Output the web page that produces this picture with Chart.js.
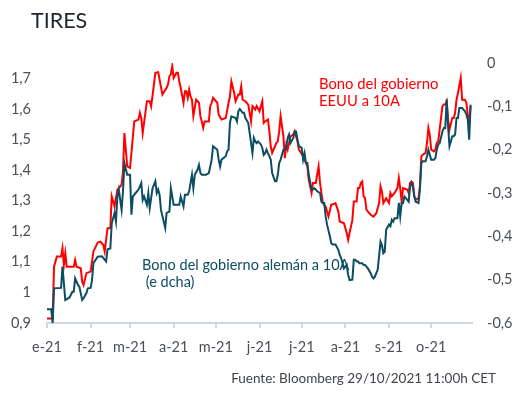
<!DOCTYPE html>
<html lang="es">
<head>
<meta charset="utf-8">
<title>Tires</title>
<script src="https://cdn.jsdelivr.net/npm/chart.js@4.4.1/dist/chart.umd.min.js"></script>
<style>
  body { margin: 0; background: #fff; }
  #grafico { position: relative; width: 516px; height: 398px; font-family: Lato, sans-serif; overflow: hidden; }
  #grafico canvas { position: absolute; left: 0; top: 0; }
  .texto { position: absolute; white-space: pre; }
  #titulo { left: 31px; top: 9px; font-size: 21.5px; line-height: 22px; color: #1f252b; }
  #nota-eeuu { left: 319px; top: 75px; font-size: 14.8px; line-height: 16.5px; color: #ff0000; }
  #nota-alemania { left: 142px; top: 256px; font-size: 14.5px; line-height: 17px; color: #0b4d63; }
  #fuente { right: 20px; top: 370px; font-size: 13.5px; line-height: 17px; color: #3f444a; }
</style>
</head>
<body>
<div id="grafico">
  <canvas id="chart-tires" width="516" height="398"></canvas>
  <div class="texto" id="titulo">TIRES</div>
  <div class="texto" id="nota-eeuu">Bono del gobierno
EEUU a 10A</div>
  <div class="texto" id="nota-alemania">Bono del gobierno alemán a 10A
 (e dcha)</div>
  <div class="texto" id="fuente">Fuente: Bloomberg 29/10/2021 11:00h CET</div>
</div>
<script>
// dias desde el 1 de enero de 2021
const marcasMes = [0, 31, 59, 90, 120, 151, 181, 212, 243, 273];
const etiquetasMes = ['e-21', 'f-21', 'm-21', 'a-21', 'm-21', 'j-21', 'j-21', 'a-21', 's-21', 'o-21'];

const ticksIzq = [0.9, 1.0, 1.1, 1.2, 1.3, 1.4, 1.5, 1.6, 1.7];
const etiquetasIzq = ['0,9', '1', '1,1', '1,2', '1,3', '1,4', '1,5', '1,6', '1,7'];
const ticksDer = [-0.6, -0.5, -0.4, -0.3, -0.2, -0.1, 0];
const etiquetasDer = ['-0,6', '-0,5', '-0,4', '-0,3', '-0,2', '-0,1', '0'];

// Bono EEUU 10A (eje izquierdo)
const diasEEUU = [
  0, 4, 5, 7, 10, 11, 12, 13, 14, 19,
  20, 21, 24, 25, 26, 28, 31, 33, 36, 38,
  40, 41, 43, 45, 46, 48, 50, 51, 53, 54,
  55, 57, 59, 60, 62, 65, 66, 67, 68, 71,
  73, 74, 76, 77, 79, 80, 82, 85, 86, 87,
  88, 89, 90, 92, 93, 94, 95, 97, 98, 99,
  100, 101, 102, 103, 104, 106, 108, 109, 110, 111,
  112, 115, 116, 117, 118, 121, 122, 124, 127, 129,
  130, 131, 133, 134, 136, 137, 138, 139, 141, 143,
  145, 146, 148, 149, 151, 152, 153, 154, 155, 157,
  158, 159, 160, 163, 164, 165, 166, 168, 169, 170,
  171, 173, 175, 176, 177, 178, 179, 182, 183, 185,
  186, 188, 189, 191, 193, 194, 196, 198, 200, 202,
  203, 205, 207, 208, 211, 213, 214, 215, 217, 218,
  220, 221, 222, 223, 224, 225, 226, 227, 230, 232,
  234, 236, 237, 238, 239, 241, 243, 244, 245, 247,
  249, 250, 251, 252, 253, 256, 257, 258, 259, 260,
  261, 262, 264, 265, 266, 267, 269, 270, 271, 272,
  273, 275, 276, 277, 278, 279, 281, 282, 283, 284,
  285, 286, 288, 289, 290, 291, 292, 294, 295, 296,
  297, 298, 299, 300, 301
];
const tiresEEUU = [
  0.915, 0.915, 1.084, 1.117, 1.117, 1.145, 1.09, 1.128, 1.084, 1.084,
  1.106, 1.084, 1.079, 1.035, 1.024, 1.063, 1.068, 1.134, 1.163, 1.166,
  1.155, 1.134, 1.21, 1.21, 1.314, 1.281, 1.336, 1.341, 1.352, 1.396,
  1.521, 1.412, 1.407, 1.456, 1.559, 1.565, 1.587, 1.57, 1.521, 1.625,
  1.625, 1.608, 1.68, 1.718, 1.72, 1.696, 1.647, 1.669, 1.68, 1.707,
  1.712, 1.74, 1.701, 1.718, 1.718, 1.69, 1.669, 1.62, 1.658, 1.658,
  1.636, 1.663, 1.641, 1.63, 1.576, 1.63, 1.62, 1.576, 1.559, 1.538,
  1.559, 1.559, 1.609, 1.62, 1.636, 1.62, 1.581, 1.565, 1.57, 1.62,
  1.641, 1.69, 1.652, 1.625, 1.647, 1.647, 1.674, 1.63, 1.625, 1.614,
  1.559, 1.609, 1.598, 1.609, 1.592, 1.609, 1.625, 1.554, 1.559, 1.565,
  1.527, 1.477, 1.456, 1.489, 1.494, 1.527, 1.576, 1.51, 1.439, 1.483,
  1.467, 1.51, 1.516, 1.527, 1.51, 1.494, 1.467, 1.445, 1.434, 1.412,
  1.368, 1.325, 1.358, 1.358, 1.412, 1.358, 1.292, 1.281, 1.248, 1.287,
  1.287, 1.292, 1.265, 1.232, 1.226, 1.194, 1.172, 1.194, 1.237, 1.297,
  1.297, 1.341, 1.341, 1.358, 1.363, 1.314, 1.308, 1.27, 1.254, 1.248,
  1.259, 1.292, 1.347, 1.33, 1.292, 1.308, 1.292, 1.325, 1.314, 1.325,
  1.341, 1.374, 1.341, 1.297, 1.341, 1.336, 1.325, 1.358, 1.363, 1.358,
  1.314, 1.303, 1.308, 1.347, 1.445, 1.45, 1.456, 1.489, 1.538, 1.516,
  1.467, 1.461, 1.467, 1.489, 1.494, 1.532, 1.609, 1.614, 1.614, 1.625,
  1.565, 1.532, 1.57, 1.57, 1.587, 1.63, 1.652, 1.701, 1.63, 1.63,
  1.63, 1.62, 1.581, 1.554, 1.609
];

// Bono aleman 10A (eje derecho)
const diasAlemania = [
  0, 3, 4, 5, 10, 11, 13, 16, 18, 19,
  20, 22, 23, 25, 26, 28, 29, 31, 32, 33,
  36, 39, 41, 42, 43, 45, 46, 48, 49, 50,
  51, 53, 54, 55, 57, 59, 60, 61, 63, 65,
  67, 68, 69, 71, 72, 73, 75, 77, 78, 79,
  80, 81, 84, 85, 87, 88, 90, 92, 94, 95,
  97, 98, 100, 101, 103, 104, 105, 107, 108, 109,
  110, 113, 115, 116, 117, 118, 121, 122, 123, 124,
  127, 128, 129, 130, 131, 134, 135, 136, 137, 139,
  140, 141, 143, 144, 146, 147, 148, 149, 150, 152,
  153, 154, 155, 156, 157, 158, 159, 160, 162, 163,
  164, 165, 166, 168, 169, 170, 171, 172, 173, 175,
  176, 177, 178, 179, 181, 182, 183, 184, 185, 186,
  188, 189, 190, 191, 192, 194, 195, 196, 197, 198,
  199, 201, 202, 203, 204, 205, 207, 208, 209, 211,
  212, 213, 214, 215, 217, 218, 219, 220, 221, 222,
  224, 225, 226, 227, 228, 230, 231, 232, 233, 234,
  235, 237, 238, 239, 240, 241, 243, 244, 245, 246,
  247, 249, 250, 251, 252, 253, 254, 256, 257, 258,
  259, 260, 261, 262, 264, 265, 266, 267, 269, 270,
  271, 272, 273, 275, 276, 277, 278, 279, 281, 282,
  283, 284, 285, 286, 288, 289, 290, 291, 292, 293,
  295, 296, 297, 298, 299, 300, 301
];
const tiresAlemania = [
  -0.568, -0.568, -0.601, -0.52, -0.519, -0.47, -0.547, -0.541, -0.528, -0.528,
  -0.497, -0.512, -0.516, -0.547, -0.543, -0.531, -0.52, -0.519, -0.501, -0.462,
  -0.447, -0.446, -0.454, -0.458, -0.43, -0.428, -0.37, -0.346, -0.366, -0.308,
  -0.292, -0.339, -0.296, -0.231, -0.258, -0.258, -0.35, -0.308, -0.3, -0.292,
  -0.277, -0.316, -0.308, -0.327, -0.3, -0.335, -0.289, -0.273, -0.3, -0.292,
  -0.304, -0.339, -0.381, -0.346, -0.343, -0.289, -0.327, -0.327, -0.327, -0.308,
  -0.331, -0.304, -0.304, -0.296, -0.258, -0.289, -0.258, -0.246, -0.235, -0.254,
  -0.258, -0.258, -0.254, -0.239, -0.223, -0.192, -0.2, -0.223, -0.239, -0.223,
  -0.215, -0.204, -0.2, -0.138, -0.123, -0.127, -0.135, -0.111, -0.106, -0.115,
  -0.115, -0.127, -0.138, -0.161, -0.208, -0.173, -0.181, -0.185, -0.181, -0.188,
  -0.196, -0.212, -0.208, -0.2, -0.208, -0.215, -0.223, -0.254, -0.273, -0.273,
  -0.258, -0.231, -0.223, -0.2, -0.2, -0.196, -0.173, -0.165, -0.185, -0.173,
  -0.158, -0.158, -0.177, -0.192, -0.196, -0.223, -0.208, -0.231, -0.231, -0.258,
  -0.292, -0.292, -0.289, -0.292, -0.296, -0.3, -0.32, -0.323, -0.323, -0.354,
  -0.373, -0.4, -0.416, -0.419, -0.419, -0.419, -0.431, -0.443, -0.45, -0.474,
  -0.47, -0.466, -0.489, -0.501, -0.5, -0.454, -0.454, -0.458, -0.458, -0.462,
  -0.462, -0.466, -0.466, -0.47, -0.474, -0.485, -0.493, -0.497, -0.493, -0.485,
  -0.477, -0.412, -0.42, -0.439, -0.435, -0.385, -0.373, -0.377, -0.362, -0.366,
  -0.358, -0.358, -0.323, -0.354, -0.323, -0.323, -0.308, -0.316, -0.32, -0.285,
  -0.277, -0.285, -0.308, -0.32, -0.323, -0.292, -0.231, -0.227, -0.227, -0.215,
  -0.2, -0.212, -0.223, -0.223, -0.219, -0.2, -0.188, -0.185, -0.158, -0.15,
  -0.15, -0.084, -0.146, -0.192, -0.169, -0.169, -0.165, -0.127, -0.127, -0.104,
  -0.104, -0.108, -0.111, -0.119, -0.131, -0.177, -0.096
];

const colorEEUU = '#ff0000';
const colorAlemania = '#0b4d63';
const colorEje = '#d0d7e1';
const colorTexto = '#4b5057';

const puntos = (dias, valores) => dias.map((d, i) => ({ x: d, y: valores[i] }));

Chart.defaults.font.family = 'Lato, sans-serif';
Chart.defaults.font.size = 14.5;
Chart.defaults.color = colorTexto;

const ctx = document.getElementById('chart-tires').getContext('2d');
const chart = new Chart(ctx, {
  type: 'line',
  data: {
    datasets: [
      {
        label: 'Bono del gobierno alemán a 10A',
        data: puntos(diasAlemania, tiresAlemania),
        yAxisID: 'yDer',
        borderColor: colorAlemania,
        borderWidth: 2,
        pointRadius: 0,
        tension: 0
      },
      {
        label: 'Bono del gobierno EEUU a 10A',
        data: puntos(diasEEUU, tiresEEUU),
        yAxisID: 'yIzq',
        borderColor: colorEEUU,
        borderWidth: 2,
        pointRadius: 0,
        tension: 0
      }
    ]
  },
  options: {
    responsive: false,
    devicePixelRatio: 1,
    animation: false,
    layout: { padding: { top: 63, left: 0, right: 0, bottom: 0 } },
    plugins: {
      legend: { display: false },
      tooltip: { enabled: false }
    },
    scales: {
      x: {
        type: 'linear',
        position: 'bottom',
        min: 0,
        max: 302,
        afterBuildTicks: (scale) => { scale.ticks = marcasMes.map(v => ({ value: v })); },
        afterFit: (scale) => { scale.height = 75; },
        ticks: {
          autoSkip: false,
          maxRotation: 0,
          padding: 11,
          callback: (value) => etiquetasMes[marcasMes.indexOf(value)]
        },
        grid: {
          drawOnChartArea: false,
          drawTicks: true,
          tickLength: 5,
          color: colorEje,
          lineWidth: 2
        },
        border: { display: true, color: colorEje, width: 2 }
      },
      yIzq: {
        type: 'linear',
        position: 'left',
        min: 0.9,
        max: 1.75,
        afterBuildTicks: (scale) => { scale.ticks = ticksIzq.map(v => ({ value: v })); },
        afterFit: (scale) => { scale.width = 47; },
        ticks: {
          padding: 8,
          callback: (value) => etiquetasIzq[ticksIzq.indexOf(value)]
        },
        grid: { display: false },
        border: { display: false }
      },
      yDer: {
        type: 'linear',
        position: 'right',
        min: -0.6,
        max: 0,
        afterBuildTicks: (scale) => { scale.ticks = ticksDer.map(v => ({ value: v })); },
        afterFit: (scale) => { scale.width = 44; },
        ticks: {
          padding: 7,
          callback: (value) => etiquetasDer[ticksDer.indexOf(value)]
        },
        grid: { display: false },
        border: { display: false }
      }
    }
  }
});
</script>
</body>
</html>
